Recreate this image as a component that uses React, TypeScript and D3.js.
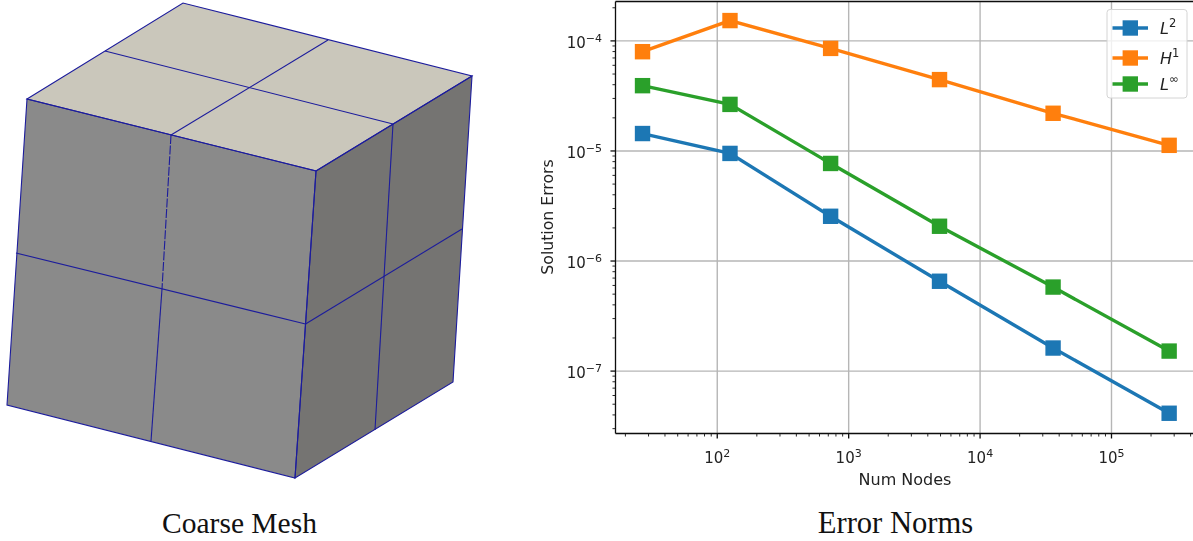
import React from "react";
import * as d3 from "d3";

const numNodes = [27, 125, 729, 4913, 35937, 274625];
const l2Errors = [1.44e-5, 9.5e-6, 2.55e-6, 6.55e-7, 1.62e-7, 4.14e-8];
const h1Errors = [7.98e-5, 1.53e-4, 8.55e-5, 4.45e-5, 2.2e-5, 1.125e-5];
const linfErrors = [3.92e-5, 2.65e-5, 7.7e-6, 2.07e-6, 5.8e-7, 1.52e-7];
const xMajorExps = [2, 3, 4, 5];
const yMajorExps = [-4, -5, -6, -7];
const seriesNames = ["L", "H", "L"];
const seriesSups = ["2", "1", "∞"];
const seriesColors = ["#1f77b4", "#ff7f0e", "#2ca02c"];

// Mesh outline, as image points
type P = [number, number];
const topFace: P[] = [[27, 99], [183, 3], [472, 76], [316, 171]];
const frontFace: P[] = [[27, 99], [316, 171], [295, 478], [7, 405]];
const rightFace: P[] = [[316, 171], [472, 76], [453, 382], [295, 478]];
const topLines: P[][] = [
  [[105, 51], [393, 124]],
  [[328, 40], [171, 135]],
];
const frontLines: P[][] = [
  [[16, 253], [305.5, 324]],
  [[162, 289], [151, 441]],
];
const frontDashed: P[] = [[171, 135], [162, 289]];
const rightLines: P[][] = [
  [[305.5, 324], [462, 229]],
  [[393, 124], [375, 430]],
];

const W = 1193;
const H = 541;
const plotLeft = 615.5;
const plotRight = 1195.4;
const plotTop = 1.5;
const plotBottom = 433.5;

const x = d3.scaleLog().domain([10 ** 1.2257, 10 ** 5.6385]).range([plotLeft, plotRight]);
const y = d3.scaleLog().domain([10 ** -7.567, 10 ** -3.642]).range([plotBottom, plotTop]);

const meshLine = d3.line<P>().x((d) => d[0]).y((d) => d[1]);
const poly = (pts: P[]) => meshLine(pts) + "Z";

const tickFont = "'DejaVu Sans', sans-serif";
const meshColor = "#1c1c9c";
const spine = "#111";
const grid = "#b6b6b6";
const textCol = "#222";
const marker = 15.4;

function minors(lo: number, hi: number) {
  const out: number[] = [];
  for (let e = lo; e <= hi; e++) for (let m = 2; m <= 9; m++) out.push(m * 10 ** e);
  return out;
}

function Pow({ px, py, exp, anchor }: { px: number; py: number; exp: string; anchor: "end" | "middle" }) {
  return (
    <text x={px} y={py} textAnchor={anchor} fontFamily={tickFont} fontSize={15} fill={textCol}>
      10
      <tspan dy={-6} fontSize={11}>{exp}</tspan>
    </text>
  );
}

export default function App() {
  const line = d3.line<number>().x((_, i) => x(numNodes[i])).y((d) => y(d));
  const series = [l2Errors, h1Errors, linfErrors];
  const drawOrder = [0, 1, 2];
  const legendY = [28, 58, 84];
  const xMin = minors(1, 5).filter((v) => x(v) >= plotLeft && x(v) <= W);
  const yMin = minors(-8, -4).filter((v) => y(v) >= plotTop && y(v) <= plotBottom);
  return (
    <svg width={W} height={H} viewBox={`0 0 ${W} ${H}`} style={{ position: "absolute", left: 0, top: 0, background: "#fff" }}>
      <defs>
        <filter id="soft" x="-2%" y="-2%" width="104%" height="104%">
          <feGaussianBlur stdDeviation="0.45" />
        </filter>
        <clipPath id="plot">
          <rect x={plotLeft} y={plotTop} width={plotRight - plotLeft} height={plotBottom - plotTop} />
        </clipPath>
      </defs>

      {/* Mesh */}
      <g>
        <path d={poly(topFace)} fill="#cac7bb" />
        <path d={poly(frontFace)} fill="#8a8a8a" />
        <path d={poly(rightFace)} fill="#757472" />
        <g fill="none" stroke={meshColor} strokeWidth={1.1}>
          {[topFace, frontFace, rightFace].map((f, i) => <path key={i} d={poly(f)} />)}
          {[...topLines, ...frontLines, ...rightLines].map((l, i) => <path key={i} d={meshLine(l) ?? ""} />)}
          <path d={meshLine(frontDashed) ?? ""} strokeDasharray="9 1.6" />
        </g>
      </g>

      {/* Chart */}
      <g filter="url(#soft)">
        <g stroke={grid} strokeWidth={1.4}>
          {xMajorExps.map((e) => <line key={e} x1={x(10 ** e)} x2={x(10 ** e)} y1={plotTop} y2={plotBottom} />)}
          {yMajorExps.map((e) => <line key={e} x1={plotLeft} x2={plotRight} y1={y(10 ** e)} y2={y(10 ** e)} />)}
        </g>
        <g clipPath="url(#plot)">
          {drawOrder.map((i) => (
            <g key={i}>
              <path d={line(series[i]) ?? ""} fill="none" stroke={seriesColors[i]} strokeWidth={3.4} />
              {series[i].map((v, j) => (
                <rect key={j} x={x(numNodes[j]) - marker / 2} y={y(v) - marker / 2} width={marker} height={marker} fill={seriesColors[i]} />
              ))}
            </g>
          ))}
        </g>
        <g stroke={spine} strokeWidth={1.3}>
          <line x1={plotLeft} x2={W} y1={plotTop} y2={plotTop} />
          <line x1={plotLeft} x2={W} y1={plotBottom} y2={plotBottom} />
          <line x1={plotLeft} x2={plotLeft} y1={plotTop} y2={plotBottom} />
          {xMajorExps.map((e) => <line key={e} x1={x(10 ** e)} x2={x(10 ** e)} y1={plotBottom} y2={plotBottom + 5} />)}
          {yMajorExps.map((e) => <line key={e} x1={plotLeft} x2={plotLeft - 5} y1={y(10 ** e)} y2={y(10 ** e)} />)}
        </g>
        <g stroke={spine} strokeWidth={0.9}>
          {xMin.map((v) => <line key={v} x1={x(v)} x2={x(v)} y1={plotBottom} y2={plotBottom + 3} />)}
          {yMin.map((v) => <line key={v} x1={plotLeft} x2={plotLeft - 3} y1={y(v)} y2={y(v)} />)}
        </g>
        {xMajorExps.map((e) => <Pow key={e} px={x(10 ** e)} py={463} exp={String(e)} anchor="middle" />)}
        {yMajorExps.map((e) => <Pow key={e} px={602} py={y(10 ** e) + 7} exp={"−" + Math.abs(e)} anchor="end" />)}
        <text x={905} y={485} textAnchor="middle" fontFamily={tickFont} fontSize={16} fill={textCol}>Num Nodes</text>
        <text transform="translate(553,217) rotate(-90)" textAnchor="middle" fontFamily={tickFont} fontSize={15.7} fill={textCol}>Solution Errors</text>

        {/* Legend */}
        <rect x={1107} y={9.5} width={80} height={88.5} rx={3} fill="#fff" fillOpacity={0.8} stroke="#d4d4d4" strokeWidth={1} />
        {seriesNames.map((n, i) => (
          <g key={i}>
            <line x1={1112.5} x2={1148} y1={legendY[i]} y2={legendY[i]} stroke={seriesColors[i]} strokeWidth={3.4} />
            <rect x={1130.3 - marker / 2} y={legendY[i] - marker / 2} width={marker} height={marker} fill={seriesColors[i]} />
            <text x={1160} y={legendY[i] + 6} fontFamily={tickFont} fontStyle="italic" fontSize={16} fill={textCol}>
              {n}
              <tspan dy={-7} fontSize={11.5} fontStyle="normal">{seriesSups[i]}</tspan>
            </text>
          </g>
        ))}
      </g>

      {/* Captions */}
      <text x={239.5} y={533} textAnchor="middle" fontFamily="'Liberation Serif', serif" fontSize={29.5} fill="#111">Coarse Mesh</text>
      <text x={895.5} y={533} textAnchor="middle" fontFamily="'Liberation Serif', serif" fontSize={30.6} fill="#111">Error Norms</text>
    </svg>
  );
}
